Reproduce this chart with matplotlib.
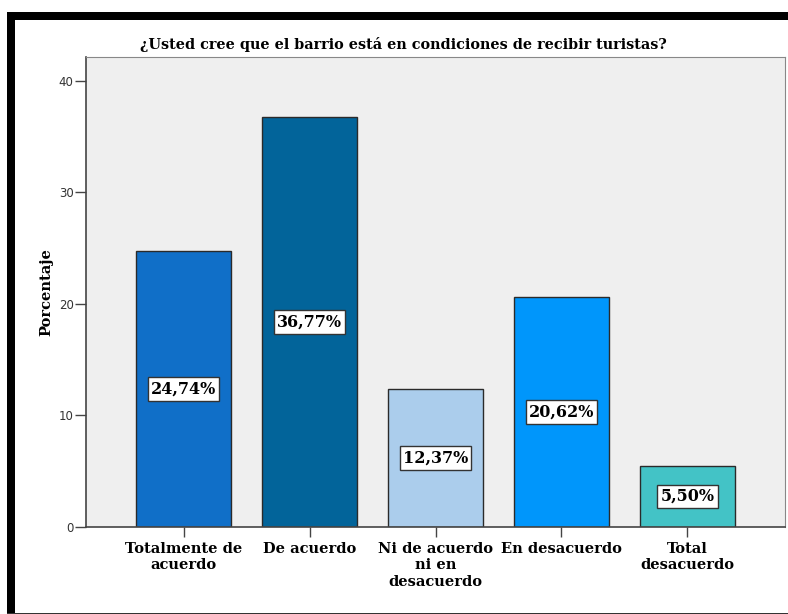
import matplotlib.pyplot as plt
from matplotlib.patches import Rectangle

categories = ["Totalmente de\nacuerdo", "De acuerdo", "Ni de acuerdo\nni en\ndesacuerdo",
              "En desacuerdo", "Total\ndesacuerdo"]
values = [24.74, 36.77, 12.37, 20.62, 5.50]
labels = ["24,74%", "36,77%", "12,37%", "20,62%", "5,50%"]
colors = ["#106fc8", "#02649a", "#abcdec", "#0096fb", "#43c3c6"]

SERIF = "DejaVu Serif"

fig = plt.figure(figsize=(7.88, 6.14), dpi=100)
fig.patch.set_facecolor("white")

W, H = 788, 614
def fx(px): return px / W
def fy(py): return 1 - py / H

# frame around the chart (black bars top/left, thin line bottom)
fig.patches.append(Rectangle((fx(7), fy(20)), 1 - fx(7), 8 / H, transform=fig.transFigure,
                             facecolor="black", edgecolor="none"))
fig.patches.append(Rectangle((fx(7), fy(613)), 8 / W, (613 - 12) / H, transform=fig.transFigure,
                             facecolor="black", edgecolor="none"))
fig.patches.append(Rectangle((fx(7), fy(614)), 1 - fx(7), 1.5 / H, transform=fig.transFigure,
                             facecolor="#333333", edgecolor="none"))

ax = fig.add_axes([fx(86), fy(527), fx(785) - fx(86), (527 - 57) / H])
ax.set_facecolor("#efefef")

x = range(len(values))
ax.bar(x, values, width=0.754, color=colors, edgecolor="#2a2a2a", linewidth=1, zorder=2)

for i, (v, lab) in enumerate(zip(values, labels)):
    ax.text(i, v / 2, lab, ha="center", va="center", fontsize=11.5, fontweight="bold",
            family=SERIF, zorder=3,
            bbox=dict(boxstyle="square,pad=0.2", facecolor="white", edgecolor="#333333", lw=1))

ax.set_xlim(-0.774, 4.774)
ax.set_ylim(0, 42.15)
ax.set_yticks([0, 10, 20, 30, 40])
ax.set_xticks(list(x))
ax.set_xticklabels(categories, family=SERIF, fontweight="bold", fontsize=10.5,
                   linespacing=1.2, va="top")
ax.tick_params(axis="y", direction="out", length=8, width=1, color="#444444",
               labelsize=8.5, labelcolor="#333333", pad=1)
ax.tick_params(axis="x", direction="out", length=7, width=1, color="#444444", pad=4)

for s in ["top", "right"]:
    ax.spines[s].set_color("#888888")
for s in ["left", "bottom"]:
    ax.spines[s].set_color("#444444")
    ax.spines[s].set_linewidth(1.2)

ax.set_ylabel("Porcentaje", family=SERIF, fontweight="bold", fontsize=10.5, labelpad=4)

fig.text(fx(403), fy(44), "¿Usted cree que el barrio está en condiciones de recibir turistas?",
         ha="center", va="center", family=SERIF, fontweight="bold", fontsize=10.4)

fig.savefig("out.png", dpi=100)
